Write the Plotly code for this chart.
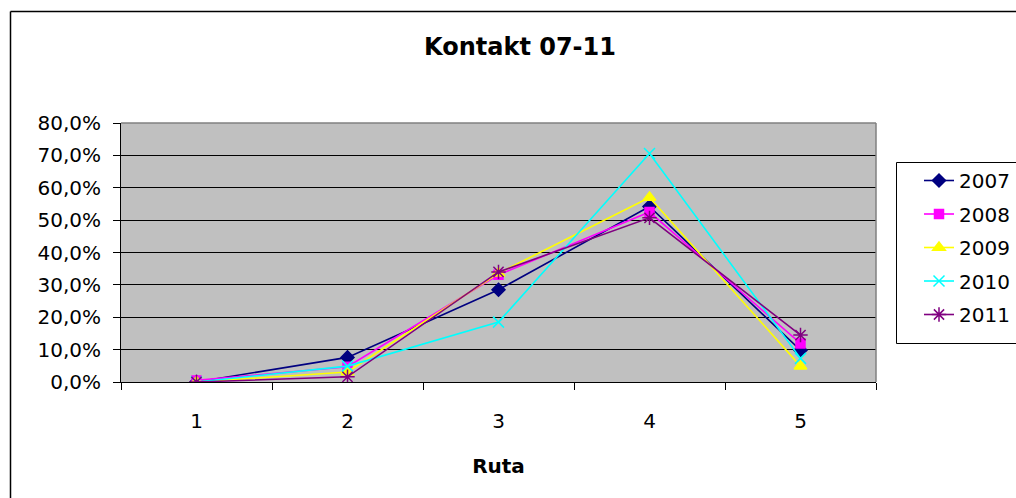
import plotly.graph_objects as go

categories = ["1", "2", "3", "4", "5"]
years = ["2007", "2008", "2009", "2010", "2011"]
v2007 = [0.0, 7.6, 28.5, 54.2, 9.8]
v2008 = [0.5, 4.7, 33.1, 52.5, 11.9]
v2009 = [0.0, 3.1, 33.6, 57.0, 4.9]
v2010 = [0.0, 4.9, 18.5, 70.6, 7.3]
v2011 = [0.0, 1.6, 34.0, 50.7, 14.5]
y_ticks = [0, 10, 20, 30, 40, 50, 60, 70, 80]

series = [v2007, v2008, v2009, v2010, v2011]
colors = ["#000080", "#FF00FF", "#FFFF00", "#00FFFF", "#800080"]
symbols = ["diamond", "square", "triangle-up", "x-thin", "asterisk"]
sizes = [10, 9, 11, 11, 12]

W, H = 1016, 498
ml, mt = 121, 123
mr = W - 876
mb = H - 382
pw = W - ml - mr
ph = H - mt - mb

fig = go.Figure()
for name, vals, c, s, sz in zip(years, series, colors, symbols, sizes):
    fig.add_trace(go.Scatter(
        x=categories, y=[v / 100 for v in vals], name=name, mode="lines+markers",
        legendgroup=name,
        line=dict(color=c, width=1.6),
        marker=dict(symbol=s, size=sz, color=c, line=dict(color=c, width=1.5)),
    ))

def px_x(p):
    return (p - ml) / pw

def px_y(p):
    return (H - mb - p) / ph

FONT = "DejaVu Sans, Liberation Sans, Arial, sans-serif"
RIGHT = 1016

fig.update_layout(
    width=W, height=H,
    margin=dict(l=ml, r=mr, t=mt, b=mb, autoexpand=False),
    paper_bgcolor="white",
    plot_bgcolor="#C0C0C0",
    font=dict(family=FONT, size=20, color="black"),
    separators=", ",
    title=dict(text="Kontakt 07-11", x=520 / W, xref="container", xanchor="center",
               y=1 - 47 / H, yref="container", yanchor="middle",
               font=dict(size=24, weight="bold")),
    xaxis=dict(
        type="category", tickson="boundaries", ticks="outside", ticklen=7,
        tickcolor="black", tickwidth=1, showline=True, linecolor="black", linewidth=1,
        showgrid=False, zeroline=False, ticklabelstandoff=21,
        title=dict(text="Ruta", font=dict(size=20, weight="bold"), standoff=26),
        range=[-0.5, 4.5],
    ),
    yaxis=dict(
        range=[0, 0.8], tickvals=[t / 100 for t in y_ticks], tickformat=".1%",
        ticks="outside", ticklen=7, tickcolor="black", showline=True,
        linecolor="black", linewidth=1, showgrid=True, gridcolor="black",
        gridwidth=1, zeroline=False, ticklabelstandoff=8,
    ),
    legend=dict(
        x=px_x(919), y=px_y(161), xanchor="left", yanchor="top",
        borderwidth=0, bgcolor="rgba(0,0,0,0)",
        font=dict(size=20), tracegroupgap=4.5, traceorder="grouped",
    ),
    showlegend=True,
    shapes=[
        dict(type="line", xref="paper", yref="paper",
             x0=px_x(10.5), x1=px_x(RIGHT + 5), y0=px_y(11.5), y1=px_y(11.5),
             line=dict(color="black", width=1.5)),
        dict(type="line", xref="paper", yref="paper",
             x0=px_x(10.5), x1=px_x(10.5), y0=px_y(11.5), y1=px_y(H + 5),
             line=dict(color="black", width=1.5)),
        dict(type="rect", xref="paper", yref="paper",
             x0=px_x(896.5), x1=px_x(RIGHT + 5), y0=px_y(343.5), y1=px_y(162.5),
             line=dict(width=0), fillcolor="white", layer="below"),
        dict(type="line", xref="paper", yref="paper",
             x0=px_x(896.5), x1=px_x(RIGHT + 5), y0=px_y(162.5), y1=px_y(162.5),
             line=dict(color="black", width=1)),
        dict(type="line", xref="paper", yref="paper",
             x0=px_x(896.5), x1=px_x(RIGHT + 5), y0=px_y(343.5), y1=px_y(343.5),
             line=dict(color="black", width=1)),
        dict(type="line", xref="paper", yref="paper",
             x0=px_x(896.5), x1=px_x(896.5), y0=px_y(343.5), y1=px_y(162.5),
             line=dict(color="black", width=1)),
        dict(type="line", xref="paper", yref="paper", x0=0, x1=1, y0=1, y1=1,
             line=dict(color="#808080", width=1.5)),
        dict(type="line", xref="paper", yref="paper", x0=1, x1=1, y0=0, y1=1,
             line=dict(color="#808080", width=1.5)),
    ],
)

fig.write_html(
    "out.html",
    config={"displayModeBar": False},
    post_script="document.body.style.margin='0';document.body.style.overflow='hidden';",
)
